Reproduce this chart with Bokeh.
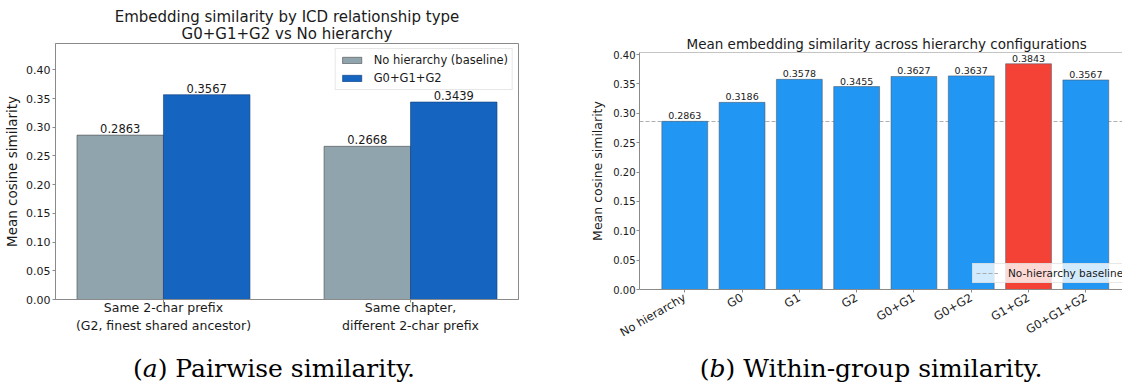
import math
import numpy as np
from bokeh.plotting import figure
from bokeh.models import (Range1d, FixedTicker, NumeralTickFormatter, Legend,
                          LegendItem, Span, Div, Title)
from bokeh.layouts import row, column
from bokeh.embed import file_html
from bokeh.resources import INLINE
from bokeh.core.properties import value

FONT = "DejaVu Sans"

# ---------------- data ----------------
pair_categories = ["Same 2-char prefix\n(G2, finest shared ancestor)",
                   "Same chapter,\ndifferent 2-char prefix"]
pair_series = ["No hierarchy (baseline)", "G0+G1+G2"]
pair_baseline = [0.2863, 0.2668]
pair_hier = [0.3567, 0.3439]

config_labels = ["No hierarchy", "G0", "G1", "G2", "G0+G1", "G0+G2", "G1+G2", "G0+G1+G2"]
config_values = [0.2863, 0.3186, 0.3578, 0.3455, 0.3627, 0.3637, 0.3843, 0.3567]
baseline_label = "No-hierarchy baseline"

y_ticks = [0.00, 0.05, 0.10, 0.15, 0.20, 0.25, 0.30, 0.35, 0.40]

title_a1 = "Embedding similarity by ICD relationship type"
title_a2 = "G0+G1+G2 vs No hierarchy"
title_b = "Mean embedding similarity across hierarchy configurations"
ylabel = "Mean cosine similarity"
caption_a = "(<i>a</i>) Pairwise similarity."
caption_b = "(<i>b</i>) Within-group similarity."

GRAY = "#90A4AE"
BLUE_DARK = "#1565C0"
BLUE = "#2196F3"
RED = "#F44336"
SPINE = "#8a8a8a"
TXT = "#1a1a1a"


def style_axes(p, tick_size, label_size):
    for ax in (p.xaxis[0], p.yaxis[0]):
        ax.axis_line_color = SPINE
        ax.major_tick_line_color = SPINE
        ax.minor_tick_line_color = None
        ax.major_tick_in = 0
        ax.major_tick_out = 3
        ax.major_label_text_font = FONT
        ax.major_label_text_color = TXT
        ax.axis_label_text_font = FONT
        ax.axis_label_text_font_style = "normal"
        ax.axis_label_text_color = TXT
    p.yaxis[0].major_label_text_font_size = tick_size
    p.yaxis[0].axis_label_text_font_size = label_size
    p.xgrid.grid_line_color = None
    p.ygrid.grid_line_color = None


# ---------------- (a) pairwise ----------------
xa = np.arange(len(pair_categories))
bw = 0.35
p1 = figure(width=570, height=353, output_backend="svg", toolbar_location=None,
            x_range=Range1d(-0.437, len(pair_categories) - 1 + 0.437),
            y_range=Range1d(0, max(pair_hier) * 1.25),
            min_border_left=55, min_border_right=52, min_border_top=43,
            min_border_bottom=54)
p1.frame_align = False
p1.outline_line_color = SPINE
p1.title.text = title_a1
p1.title.align = "center"
p1.title.text_font = FONT
p1.title.text_font_size = "15px"
p1.title.text_font_style = "normal"
p1.title.text_color = TXT
p1.title.standoff = -7
p1.add_layout(Title(text=title_a2, align="center", text_font=FONT,
                    text_font_size="15px", text_font_style="normal",
                    text_color=TXT, standoff=1), "above")

r_base = p1.vbar(x=xa - bw / 2, top=pair_baseline, width=bw, fill_color=GRAY,
                 line_color="#4a4a4a", line_alpha=0.75, line_width=0.8)
r_hier = p1.vbar(x=xa + bw / 2, top=pair_hier, width=bw, fill_color=BLUE_DARK,
                 line_color="#0d3c7a", line_alpha=0.75, line_width=0.8)
p1.text(x=xa - bw / 2, y=pair_baseline, text=[f"{v:.4f}" for v in pair_baseline],
        text_align="center", text_baseline="bottom", y_offset=-2,
        text_font=value(FONT), text_font_size="11.5px", text_color=TXT)
p1.text(x=xa + bw / 2, y=pair_hier, text=[f"{v:.4f}" for v in pair_hier],
        text_align="center", text_baseline="bottom", y_offset=-2,
        text_font=value(FONT), text_font_size="11.5px", text_color=TXT)

style_axes(p1, "11px", "13.5px")
p1.xaxis.ticker = FixedTicker(ticks=list(xa))
p1.xaxis.major_label_overrides = {int(i): c for i, c in zip(xa, pair_categories)}
p1.xaxis.major_label_text_font_size = "12.5px"
p1.xaxis.major_label_standoff = -3
p1.yaxis.ticker = FixedTicker(ticks=y_ticks)
p1.yaxis.formatter = NumeralTickFormatter(format="0.00")
p1.yaxis.axis_label = ylabel
p1.yaxis.major_label_standoff = 2
p1.yaxis.axis_label_standoff = 3

leg1 = Legend(items=[LegendItem(label=pair_series[0], renderers=[r_base]),
                     LegendItem(label=pair_series[1], renderers=[r_hier])],
              location="top_right", margin=5, padding=4, spacing=4,
              label_height=13, glyph_height=8, glyph_width=24, label_standoff=10,
              label_text_font=FONT, label_text_font_size="11.5px",
              label_text_color=TXT, border_line_color="#d0d0d0",
              background_fill_alpha=0.8)
p1.add_layout(leg1)

# ---------------- (b) within-group ----------------
xb = np.arange(len(config_labels))
vmax = max(config_values)
colors = [RED if v == vmax else BLUE for v in config_values]
p2 = figure(width=552, height=353, output_backend="svg", toolbar_location=None,
            x_range=Range1d(-0.79, 7.64), y_range=Range1d(0, vmax * 1.05),
            min_border_left=69, min_border_right=0, min_border_top=52,
            min_border_bottom=64)
p2.frame_align = False
p2.outline_line_color = None
p2.title.text = title_b
p2.title.align = "left"
p2.title.offset = 47
p2.title.text_font = FONT
p2.title.text_font_size = "13.5px"
p2.title.text_font_style = "normal"
p2.title.text_color = TXT
p2.title.standoff = 2

r_line = p2.hspan(y=[config_values[0]], line_color="#9a9a9a", line_dash="4 2",
                  line_width=0.8)
p2.vbar(x=xb, top=config_values, width=0.8, fill_color=colors,
        line_color="#4a5a6a", line_alpha=0.7, line_width=0.8)
p2.text(x=xb, y=config_values, text=[f"{v:.4f}" for v in config_values],
        text_align="center", text_baseline="bottom", y_offset=-2,
        text_font=value(FONT), text_font_size="9.5px", text_color=TXT)
p2.add_layout(Span(location=vmax * 1.05, dimension="width", line_color=SPINE,
                   line_width=1))

style_axes(p2, "10px", "12.5px")
p2.xaxis.ticker = FixedTicker(ticks=list(xb))
p2.xaxis.major_label_overrides = {int(i): c for i, c in zip(xb, config_labels)}
p2.xaxis.major_label_text_font_size = "11.5px"
p2.xaxis.major_label_orientation = math.pi / 6
p2.xaxis.major_label_standoff = 4
p2.yaxis.ticker = FixedTicker(ticks=y_ticks)
p2.yaxis.formatter = NumeralTickFormatter(format="0.00")
p2.yaxis.axis_label = ylabel
p2.yaxis.major_label_standoff = 1
p2.yaxis.axis_label_standoff = 5

leg2 = Legend(items=[LegendItem(label=baseline_label, renderers=[r_line])],
              location=(333, 6), padding=3, spacing=0, label_height=12,
              glyph_height=12, glyph_width=22, label_standoff=10,
              label_text_font=FONT, label_text_font_size="10.5px",
              label_text_color=TXT, border_line_color="#d0d0d0",
              background_fill_alpha=0.8)
p2.add_layout(leg2)

# ---------------- captions ----------------
cap_style = ("font-family:'DejaVu Serif'; font-size:25px; line-height:22px; "
             "text-align:center; white-space:nowrap; color:#000;")
div_a = Div(text=f'<div style="{cap_style} width:538px;">{caption_a}</div>',
            width=538, height=30, styles={"overflow": "visible"})
div_b = Div(text=f'<div style="{cap_style} width:524px; margin-left:56px;">{caption_b}</div>',
            width=584, height=30, styles={"overflow": "visible"})

layout = column(row(p1, p2), row(div_a, div_b))
open("out.html", "w").write(file_html(layout, INLINE))
